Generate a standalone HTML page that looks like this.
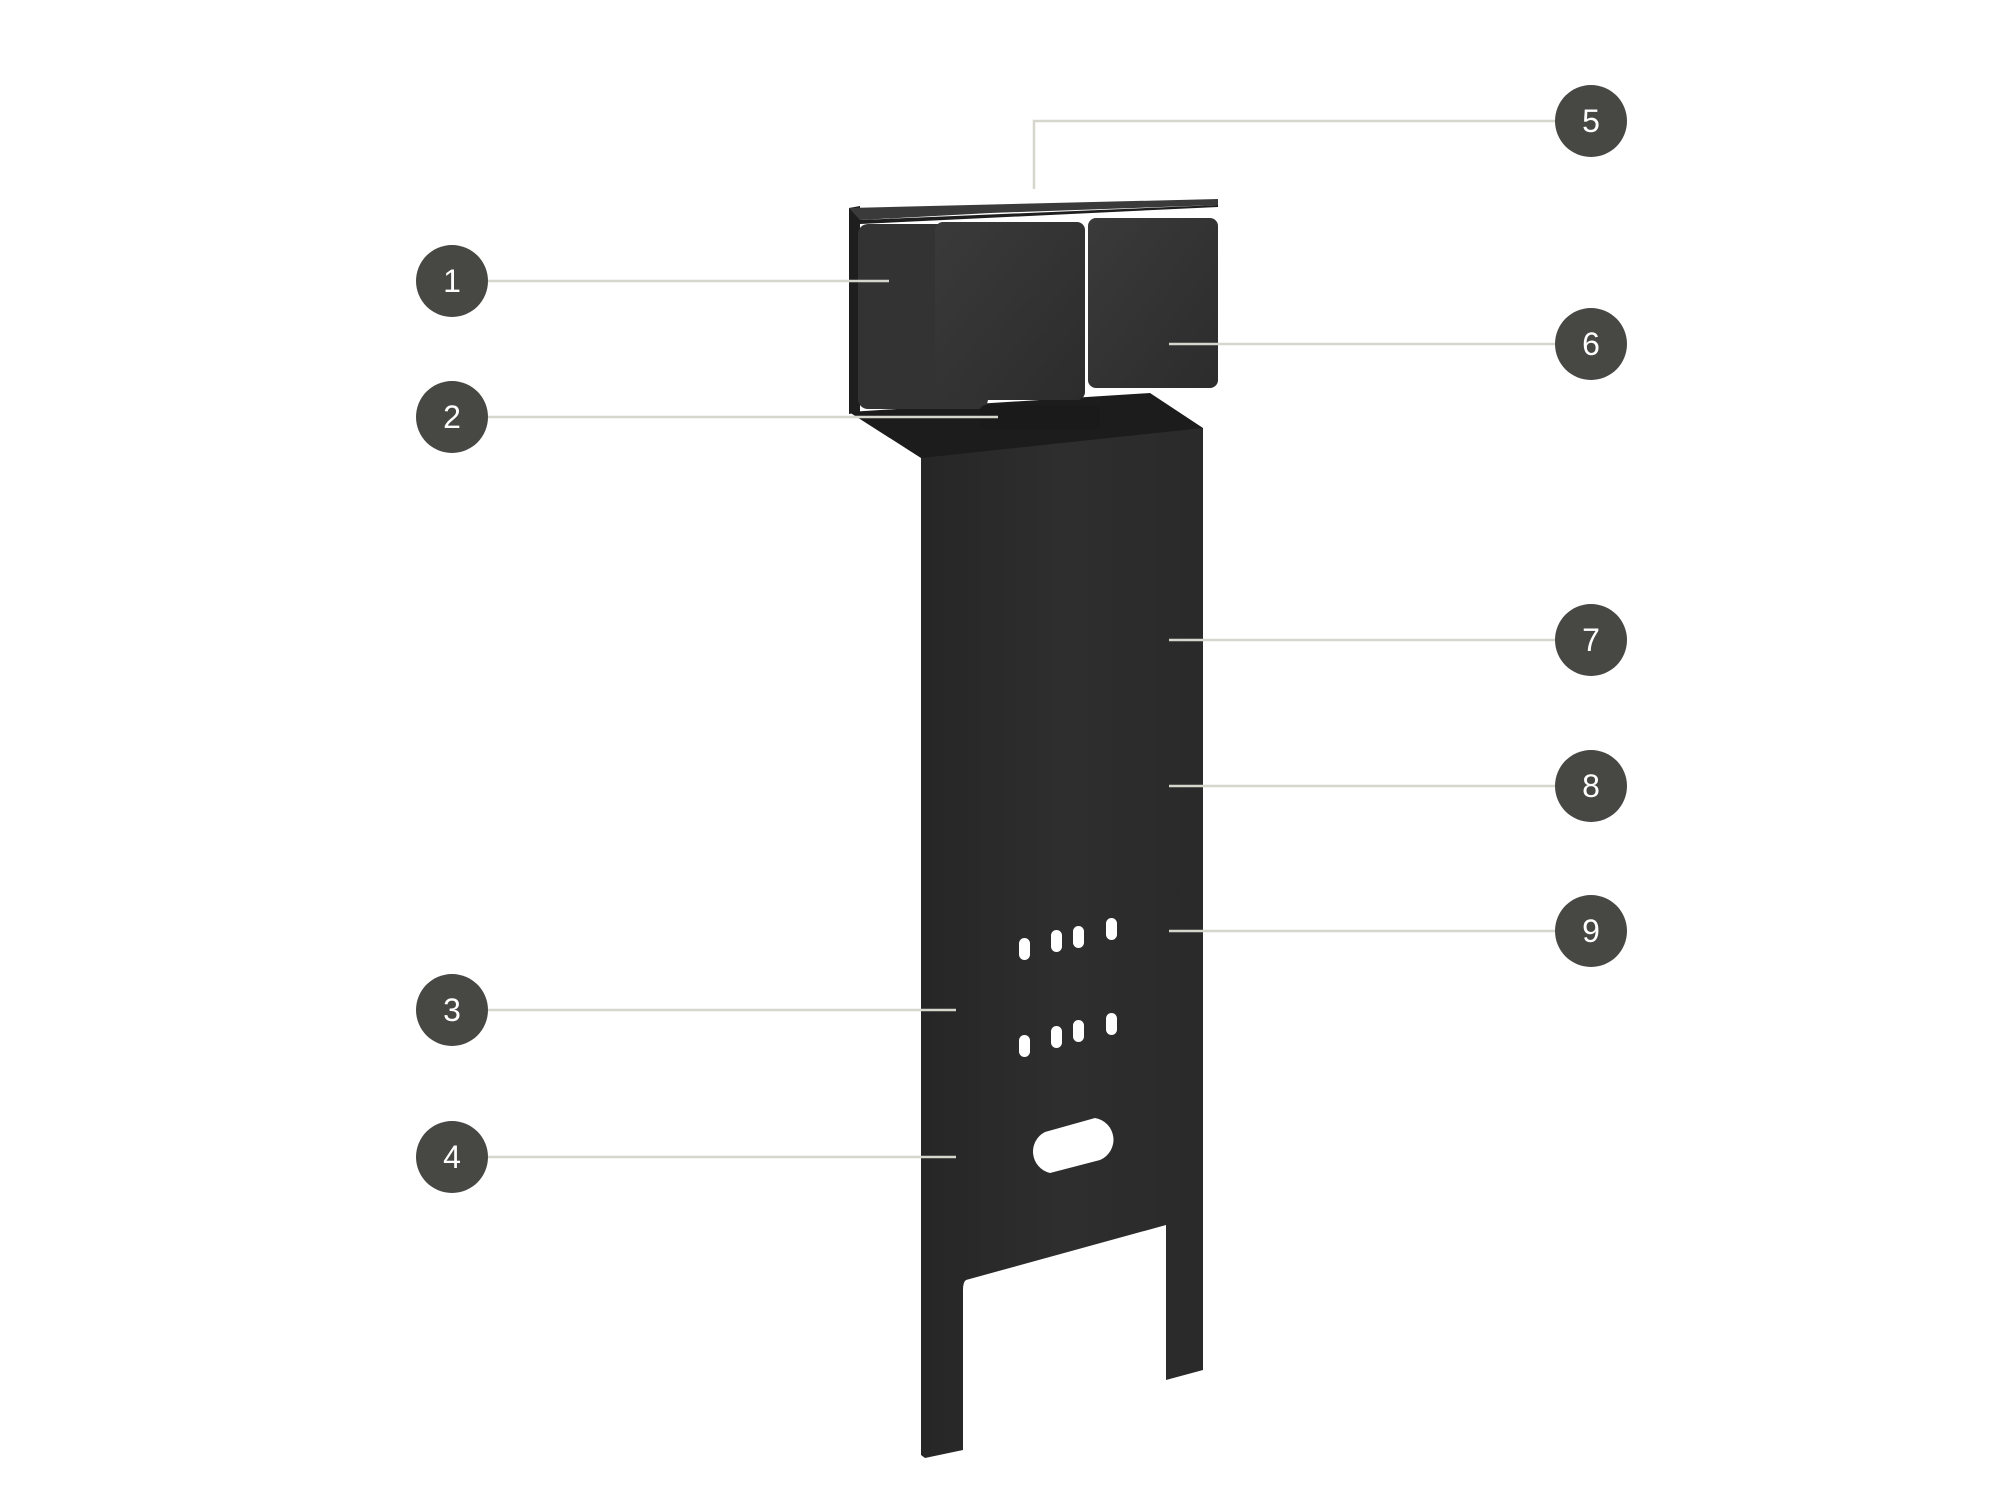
<!DOCTYPE html>
<html><head><meta charset="utf-8"><style>
html,body{margin:0;padding:0;background:#fff;}
svg{display:block}
</style></head><body>
<svg width="2000" height="1500" viewBox="0 0 2000 1500" xmlns="http://www.w3.org/2000/svg">
<defs>
<linearGradient id="post" x1="0" x2="1" y1="0" y2="0">
<stop offset="0" stop-color="#262626"/><stop offset="0.5" stop-color="#2e2e2e"/><stop offset="1" stop-color="#2a2a2a"/>
</linearGradient>
<linearGradient id="box" x1="0" x2="1" y1="0" y2="1">
<stop offset="0" stop-color="#3a3a3a"/><stop offset="1" stop-color="#2c2c2c"/>
</linearGradient>
</defs>
<path d="M921,430 L1203,428 L1203,1370 L1166,1380 L1166,1225 L966,1280 Q963,1282 963,1290 L963,1450 L925,1458 L921,1455 Z" fill="url(#post)"/>
<path d="M849,412 L1150,393 L1203,428 L921,458 Z" fill="#1c1c1c"/>
<path d="M849,208 L860,206 L860,412 L849,414 Z" fill="#1e1e1e"/>
<rect x="858" y="224" width="130" height="185" rx="10" fill="#333"/>
<rect x="935" y="222" width="150" height="178" rx="8" fill="url(#box)"/>
<rect x="1088" y="218" width="130" height="170" rx="8" fill="url(#box)"/>
<rect x="980" y="405" width="120" height="25" rx="6" fill="#1a1a1a"/>
<path d="M849,208 L1218,199 L1218,205 L990,213 L860,220 Z" fill="#3a3a3a"/>
<path d="M860,220 L1218,205 L1218,207 L860,224 Z" fill="#1e1e1e"/>
<g fill="#fff">
<rect x="1019" y="938" width="11" height="22" rx="5.5"/>
<rect x="1051" y="930" width="11" height="22" rx="5.5"/>
<rect x="1073" y="926" width="11" height="22" rx="5.5"/>
<rect x="1106" y="918" width="11" height="22" rx="5.5"/>
<rect x="1019" y="1035" width="11" height="22" rx="5.5"/>
<rect x="1051" y="1026" width="11" height="22" rx="5.5"/>
<rect x="1073" y="1020" width="11" height="22" rx="5.5"/>
<rect x="1106" y="1013" width="11" height="22" rx="5.5"/>
<path d="M1045,1132 L1095,1118 A22,22 0 0 1 1100,1160 L1050,1173 A22,22 0 0 1 1045,1132 Z"/>
</g>
<g stroke="#d6d6cc" stroke-width="2.5" fill="none">
<line x1="483" y1="281" x2="889" y2="281"/>
<line x1="483" y1="417" x2="998" y2="417"/>
<line x1="483" y1="1010" x2="956" y2="1010"/>
<line x1="483" y1="1157" x2="956" y2="1157"/>
<polyline points="1556,121 1034,121 1034,189"/>
<line x1="1169" y1="344" x2="1556" y2="344"/>
<line x1="1169" y1="640" x2="1556" y2="640"/>
<line x1="1169" y1="786" x2="1556" y2="786"/>
<line x1="1169" y1="931" x2="1556" y2="931"/>
</g>
<g fill="#474744">
<circle cx="452" cy="281" r="36"/><circle cx="452" cy="417" r="36"/>
<circle cx="452" cy="1010" r="36"/><circle cx="452" cy="1157" r="36"/>
<circle cx="1591" cy="121" r="36"/><circle cx="1591" cy="344" r="36"/>
<circle cx="1591" cy="640" r="36"/><circle cx="1591" cy="786" r="36"/>
<circle cx="1591" cy="931" r="36"/>
</g>
<g fill="#fff" font-family="Liberation Sans, DejaVu Sans, sans-serif" font-size="32" text-anchor="middle">
<text x="452" y="292">1</text><text x="452" y="428">2</text>
<text x="452" y="1021">3</text><text x="452" y="1168">4</text>
<text x="1591" y="132">5</text><text x="1591" y="355">6</text>
<text x="1591" y="651">7</text><text x="1591" y="797">8</text>
<text x="1591" y="942">9</text>
</g>
</svg>
</body></html>
